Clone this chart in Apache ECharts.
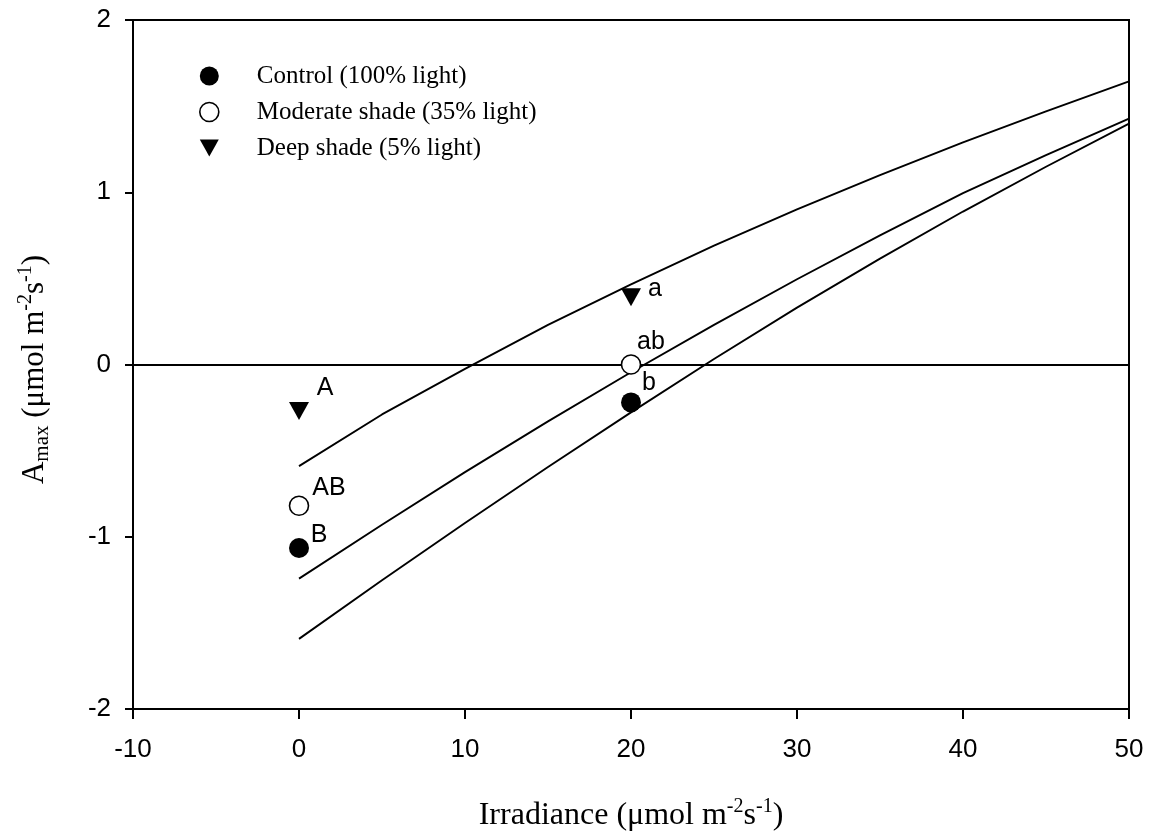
<!DOCTYPE html>
<html>
<head>
<meta charset="utf-8">
<script src="https://cdn.jsdelivr.net/npm/echarts@6/dist/echarts.min.js"></script>
<style>
  html, body { margin: 0; padding: 0; background: #fff; }
  #chart { width: 1153px; height: 837px; }
</style>
</head>
<body>
<div id="chart"></div>
<script>
// Fitted light-response curves (irradiance vs. Amax)
const irradiance = [0, 5, 10, 15, 20, 25, 30, 35, 40, 45, 50];
const fitDeep = [-0.59, -0.29, -0.025, 0.23, 0.465, 0.69, 0.90, 1.10, 1.29, 1.47, 1.644];
const fitModerate = [-1.243, -0.93, -0.625, -0.33, -0.045, 0.23, 0.495, 0.75, 0.995, 1.215, 1.428];
const fitControl = [-1.593, -1.253, -0.920, -0.595, -0.278, 0.032, 0.330, 0.615, 0.888, 1.148, 1.398];

// Measured treatment means at the two growth irradiances
const treatmentX = [0, 20];
const controlMeans = [-1.065, -0.22];
const moderateMeans = [-0.82, 0.0];
const deepMeans = [-0.27, 0.39];

// Significance letters
const controlLetters = ['B', 'b'];
const moderateLetters = ['AB', 'ab'];
const deepLetters = ['A', 'a'];

const seriesNames = ['Control (100% light)', 'Moderate shade (35% light)', 'Deep shade (5% light)'];
const xTicks = [-10, 0, 10, 20, 30, 40, 50];
const yTicks = [-2, -1, 0, 1, 2];

const serif = 'Liberation Serif';
const sans = 'Liberation Sans';
const triangleDown = 'path://M0,0L20,0L10,18Z';

const pairs = (xs, ys) => xs.map((x, i) => [x, ys[i]]);

// where each letter sits relative to its marker
const letterOffsets = {
  control: [[20, -13], [18, -19]],
  moderate: [[30, -18], [20, -22]],
  deep: [[26, -23], [24, -8]]
};

const filledStyle = { color: '#000', borderColor: '#000', borderWidth: 0, opacity: 1 };
const openStyle = { color: '#fff', borderColor: '#000', borderWidth: 1.6, opacity: 1 };

function curveSeries(ys, extra) {
  return Object.assign({
    type: 'line',
    data: pairs(irradiance, ys),
    showSymbol: false,
    symbol: 'none',
    smooth: false,
    silent: true,
    z: 2,
    lineStyle: { color: '#000', width: 1.9, opacity: 1 }
  }, extra || {});
}

function pointSeries(name, ys, letters, offsets, symbol, size, itemStyle) {
  return {
    name: name,
    type: 'scatter',
    symbol: symbol,
    symbolSize: size,
    itemStyle: itemStyle,
    silent: true,
    z: 5,
    label: {
      show: true,
      position: 'inside',
      align: 'center',
      verticalAlign: 'middle',
      color: '#000',
      opacity: 1,
      fontFamily: sans,
      fontSize: 25
    },
    data: treatmentX.map((x, i) => ({
      value: [x, ys[i]],
      label: { formatter: letters[i], offset: offsets[i] }
    }))
  };
}

const chart = echarts.init(document.getElementById('chart'), null, { renderer: 'canvas' });

const option = {
  animation: false,
  backgroundColor: '#fff',
  grid: {
    show: true,
    left: 133, right: 24, top: 20, bottom: 123,
    borderColor: '#000', borderWidth: 2,
    backgroundColor: 'transparent'
  },
  legend: {
    orient: 'vertical',
    left: 194,
    top: 53,
    itemWidth: 19,
    itemHeight: 19,
    itemGap: 0,
    selectedMode: false,
    textStyle: {
      fontFamily: serif, fontSize: 25, color: '#000',
      lineHeight: 36, padding: [0, 0, 0, 33]
    },
    data: [
      { name: seriesNames[0], icon: 'circle', itemStyle: filledStyle },
      { name: seriesNames[1], icon: 'circle', itemStyle: openStyle },
      { name: seriesNames[2], icon: triangleDown, itemStyle: filledStyle }
    ]
  },
  xAxis: {
    type: 'value',
    min: xTicks[0],
    max: xTicks[xTicks.length - 1],
    interval: xTicks[1] - xTicks[0],
    name: '{base|Irradiance (μmol m}{sup|-2}{base|s}{sup|-1}{base|)}',
    nameLocation: 'middle',
    nameGap: 88,
    nameTextStyle: {
      rich: {
        base: { fontFamily: serif, fontSize: 32, color: '#000', lineHeight: 38 },
        sup: { fontFamily: serif, fontSize: 20, color: '#000', lineHeight: 20, verticalAlign: 'top' }
      }
    },
    axisLine: { show: true, onZero: false, lineStyle: { color: '#000', width: 2 } },
    axisTick: { show: true, inside: false, length: 10, lineStyle: { color: '#000', width: 2 } },
    axisLabel: { color: '#000', fontFamily: sans, fontSize: 26, margin: 28 },
    splitLine: { show: false }
  },
  yAxis: {
    type: 'value',
    min: yTicks[0],
    max: yTicks[yTicks.length - 1],
    interval: yTicks[1] - yTicks[0],
    name: '{base|A}{sub|max}{base| (μmol m}{sup|-2}{base|s}{sup|-1}{base|)}',
    nameLocation: 'middle',
    nameGap: 80,
    nameRotate: 90,
    nameTextStyle: {
      padding: [0, 10, 0, 0],
      rich: {
        base: { fontFamily: serif, fontSize: 31, color: '#000', lineHeight: 37 },
        sup: { fontFamily: serif, fontSize: 20, color: '#000', lineHeight: 20, verticalAlign: 'top' },
        sub: { fontFamily: serif, fontSize: 21, color: '#000', lineHeight: 21, verticalAlign: 'bottom' }
      }
    },
    axisLine: { show: true, onZero: false, lineStyle: { color: '#000', width: 2 } },
    axisTick: { show: true, inside: false, length: 8, lineStyle: { color: '#000', width: 2 } },
    axisLabel: { color: '#000', fontFamily: sans, fontSize: 26, margin: 22 },
    splitLine: { show: false }
  },
  series: [
    curveSeries(fitDeep, {
      markLine: {
        silent: true,
        symbol: 'none',
        label: { show: false },
        lineStyle: { color: '#000', width: 2, type: 'solid', opacity: 1 },
        data: [{ yAxis: 0 }]
      }
    }),
    curveSeries(fitModerate),
    curveSeries(fitControl),
    pointSeries(seriesNames[0], controlMeans, controlLetters, letterOffsets.control, 'circle', 20, filledStyle),
    pointSeries(seriesNames[1], moderateMeans, moderateLetters, letterOffsets.moderate, 'circle', 19, openStyle),
    pointSeries(seriesNames[2], deepMeans, deepLetters, letterOffsets.deep, triangleDown, [20, 18], filledStyle)
  ]
};

chart.setOption(option);
</script>
</body>
</html>
